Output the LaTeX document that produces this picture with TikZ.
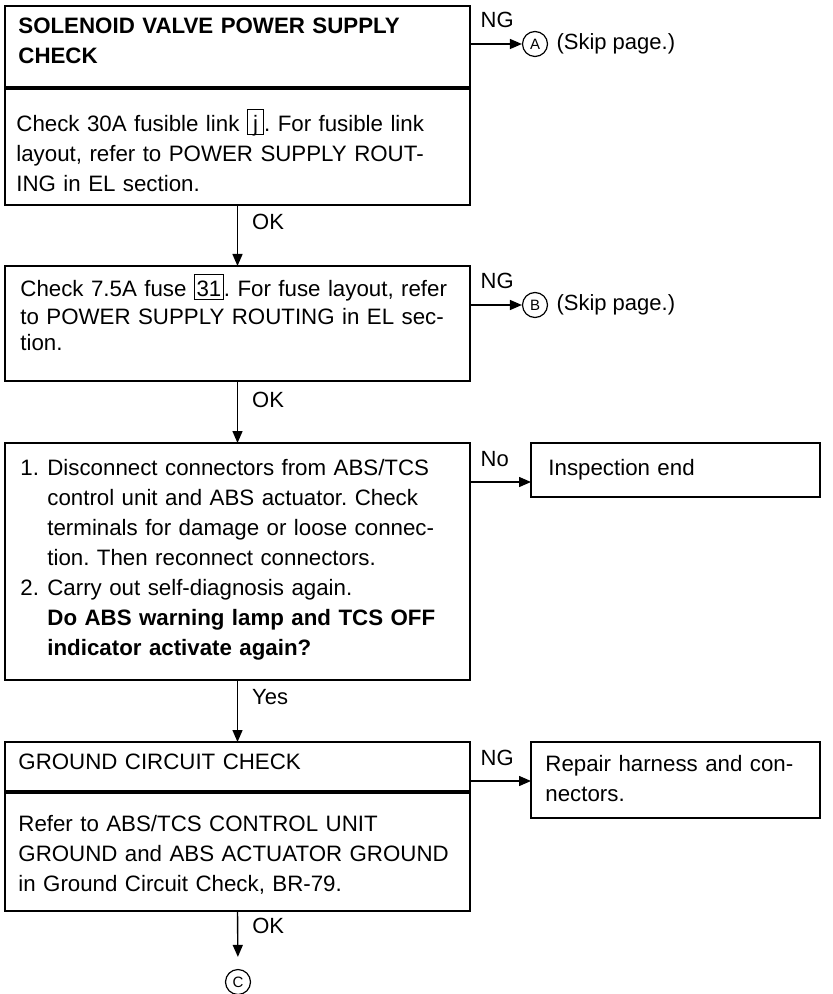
\documentclass[tikz,border=0pt]{standalone}
\usepackage{fontspec}
\setmainfont{Liberation Sans}
\usetikzlibrary{arrows.meta, positioning}
\frenchspacing
% framed reference number inside the text
\newcommand{\tagbox}[1]{{\setlength{\fboxsep}{0.8pt}\setlength{\fboxrule}{0.5pt}\fbox{\rule{0pt}{10pt}\raisebox{0pt}[0pt][0pt]{#1}}}}
\newcommand{\itemno}[1]{\makebox[13.5pt][l]{#1}}
\tikzset{
	frame/.style={draw=black, line width=0.8pt, anchor=north west, inner sep=0pt, outer sep=0pt},
	divider/.style={line width=1.8pt},
	txt/.style={anchor=north west, align=left, inner sep=0pt, text width=240pt, font=\fontsize{11.15}{15}\selectfont},
	lbl/.style={inner sep=0pt, font=\fontsize{11}{13}\selectfont},
	refcirc/.style={circle, draw=black, line width=0.6pt, inner sep=0pt, minimum size=12.5pt, font=\fontsize{7.5}{7.5}\selectfont},
	flowarrow/.style={-{Triangle[length=6pt, width=5pt]}, line width=0.7pt},
}

\begin{document}
\begin{tikzpicture}[x=0.5pt, y=-0.5pt]
	\useasboundingbox (0,0) rectangle (833,994);
	% boxes
	\node[frame, minimum width=232.5pt, minimum height=41pt] (b1h) at (5,6) {};
	\node[frame, minimum width=232.5pt, minimum height=58.5pt] (b1b) at (b1h.south west) {};
	\draw[divider] (b1h.south west) -- (b1h.south east);
	\node[frame, minimum width=232.5pt, minimum height=57.5pt] (b2) at (5,266) {};
	\node[frame, minimum width=232.5pt, minimum height=118.5pt] (b3) at (5,443) {};
	\node[frame, minimum width=232.5pt, minimum height=25pt] (b4h) at (5,742) {};
	\node[frame, minimum width=232.5pt, minimum height=59.5pt] (b4b) at (b4h.south west) {};
	\draw[divider] (b4h.south west) -- (b4h.south east);
	\node[frame, minimum width=144.5pt, minimum height=27pt] (ie) at (531,443) {};
	\node[frame, minimum width=144.5pt, minimum height=38pt] (rp) at (531,742) {};
	% texts
	\node[txt] (t1h) at (18,18) {\textbf{SOLENOID VALVE POWER SUPPLY}\\\textbf{CHECK}};
	\node[txt] (t1b) at (16,109) {Check 30A fusible link \tagbox{\makebox[6pt]{j}}. For fusible link\\layout, refer to POWER SUPPLY ROUT-\\ING in EL section.};
	\node[txt, font=\fontsize{11.15}{13.5}\selectfont] (t2) at (20,274) {Check 7.5A fuse \tagbox{31}. For fuse layout, refer\\to POWER SUPPLY ROUTING in EL sec-\\tion.};
	\node[txt] (t3) at (20,459) {\itemno{1.}Disconnect connectors from ABS/TCS\\
		\hspace*{13.5pt}control unit and ABS actuator. Check\\
		\hspace*{13.5pt}terminals for damage or loose connec-\\
		\hspace*{13.5pt}tion. Then reconnect connectors.\\
		\itemno{2.}Carry out self-diagnosis again.\\
		\hspace*{13.5pt}\textbf{Do ABS warning lamp and TCS OFF}\\
		\hspace*{13.5pt}\textbf{indicator activate again?}};
	\node[txt] (t4h) at (18,754) {GROUND CIRCUIT CHECK};
	\node[txt] (t4b) at (18,815) {Refer to ABS/TCS CONTROL UNIT\\GROUND and ABS ACTUATOR GROUND\\in Ground Circuit Check, BR-79.};
	\node[txt] (tie) at (548,459) {Inspection end};
	\node[txt] (trp) at (545,755) {Repair harness and con-\\nectors.};
	% page references
	\node[refcirc] (cA) at (535,44) {A};
	\node[lbl, right=4pt of cA] (skA) {(Skip page.)};
	\node[refcirc] (cB) at (535,305) {B};
	\node[lbl, right=4pt of cB] (skB) {(Skip page.)};
	\node[refcirc] (cC) at (238,982) {C};
	% connectors
	\draw[flowarrow] ([yshift=-19pt]b1h.north east) -- node[lbl, pos=0, anchor=base west, xshift=5pt, yshift=8pt] {NG} (cA);
	\draw[flowarrow] (b1b.south) -- node[lbl, pos=0.28, anchor=west, xshift=7pt] {OK} (b2.north);
	\draw[flowarrow] ([yshift=-19.5pt]b2.north east) -- node[lbl, pos=0, anchor=base west, xshift=5pt, yshift=8pt] {NG} (cB);
	\draw[flowarrow] (b2.south) -- node[lbl, pos=0.31, anchor=west, xshift=7pt] {OK} (b3.north);
	\draw[flowarrow] ([yshift=-19.5pt]b3.north east) -- node[lbl, pos=0, anchor=base west, xshift=5pt, yshift=8pt] {No} ([yshift=-19.5pt]ie.north west);
	\draw[flowarrow] (b3.south) -- node[lbl, pos=0.27, anchor=west, xshift=7pt] {Yes} (b4h.north);
	\draw[flowarrow] ([yshift=-19.5pt]b4h.north east) -- node[lbl, pos=0, anchor=base west, xshift=5pt, yshift=8pt] {NG} ([yshift=-19.5pt]rp.north west);
	\draw[flowarrow, shorten >=6pt] (b4b.south) -- node[lbl, pos=0.25, anchor=west, xshift=7pt] {OK} (cC.north);
\end{tikzpicture}
\end{document}
